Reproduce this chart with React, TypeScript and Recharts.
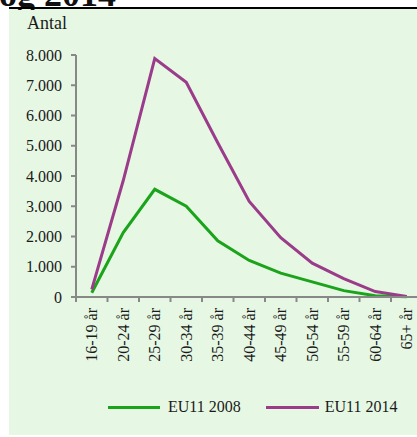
import { LineChart, Line, XAxis, YAxis } from 'recharts';

const ageGroups = ['16-19 år', '20-24 år', '25-29 år', '30-34 år', '35-39 år', '40-44 år', '45-49 år', '50-54 år', '55-59 år', '60-64 år', '65+ år'];
const eu11in2008 = [140, 2130, 3560, 3000, 1860, 1210, 790, 500, 210, 40, 10];
const eu11in2014 = [250, 3850, 7880, 7100, 5100, 3160, 1960, 1120, 610, 180, 20];
const yTicks = [0, 1000, 2000, 3000, 4000, 5000, 6000, 7000, 8000];

const GREEN = '#1ba41b';
const PURPLE = '#9b3c8b';
const AXIS = '#888888';
const FONT = '"Liberation Serif", "Times New Roman", serif';
const BAND = 31.5;

const data = ageGroups.map((name, i) => ({
  name,
  eu2008: eu11in2008[i],
  eu2014: eu11in2014[i],
}));

const formatThousands = (v: number) => v.toLocaleString('de-DE');

const AgeTick = (props: any) => {
  const { x, y, payload } = props;
  const ty = y + 11;
  return (
    <g>
      <line x1={x - BAND / 2} x2={x - BAND / 2} y1={y} y2={y + 5} stroke={AXIS} strokeWidth={2} />
      <text
        x={x}
        y={ty}
        dy="0.35em"
        textAnchor="end"
        transform={`rotate(-90, ${x}, ${ty})`}
        fill="#1a1a1a"
        fontSize={16}
        fontFamily={FONT}
      >
        {payload.value}
      </text>
    </g>
  );
};

export default function App() {
  return (
    <div style={{ position: 'absolute', left: 0, top: 0, width: 417, height: 437, overflow: 'hidden', background: '#fff' }}>
      <div style={{ position: 'absolute', left: 9, top: 9, width: 408, height: 426, background: '#e6f8e4' }} />
      <svg width={417} height={10} style={{ position: 'absolute', left: 0, top: 0 }}>
        {/* chapter heading above, only its lower edge is in frame */}
        <text x={-1} y={6} fontSize={36} fontWeight="bold" fontFamily={FONT} fill="#111">og 2014</text>
        <rect x={9} y={7} width={408} height={2} fill="#000" />
      </svg>
      <div style={{ position: 'absolute', left: 27, top: 13, fontFamily: FONT, fontSize: 18, color: '#1a1a1a', lineHeight: '20px' }}>
        Antal
      </div>
      <div style={{ position: 'absolute', left: 0, top: 0 }}>
        <LineChart width={440} height={437} data={data} margin={{ top: 55, right: 17.5, left: 0, bottom: 60 }}>
          <XAxis
            dataKey="name"
            scale="band"
            interval={0}
            height={80}
            tickLine={false}
            tickSize={0}
            tickMargin={0}
            axisLine={{ stroke: AXIS, strokeWidth: 2 }}
            tick={<AgeTick />}
          />
          <YAxis
            width={76}
            domain={[0, 8000]}
            ticks={yTicks}
            tickFormatter={formatThousands}
            tickSize={5}
            tickMargin={9}
            axisLine={{ stroke: AXIS, strokeWidth: 2 }}
            tickLine={{ stroke: AXIS, strokeWidth: 2 }}
            tick={{ fill: '#1a1a1a', fontSize: 16, fontFamily: FONT }}
          />
          <Line dataKey="eu2008" stroke={GREEN} strokeWidth={3} dot={false} isAnimationActive={false} />
          <Line dataKey="eu2014" stroke={PURPLE} strokeWidth={3} dot={false} isAnimationActive={false} />
        </LineChart>
      </div>
      <div style={{ position: 'absolute', left: 108, top: 396, display: 'flex', alignItems: 'center', fontFamily: FONT, fontSize: 16, color: '#1a1a1a', height: 22 }}>
        <span style={{ width: 52, height: 3, background: GREEN, display: 'inline-block', marginRight: 8 }} />
        <span>EU11 2008</span>
        <span style={{ width: 53, height: 3, background: PURPLE, display: 'inline-block', marginLeft: 25, marginRight: 6 }} />
        <span>EU11 2014</span>
      </div>
    </div>
  );
}
